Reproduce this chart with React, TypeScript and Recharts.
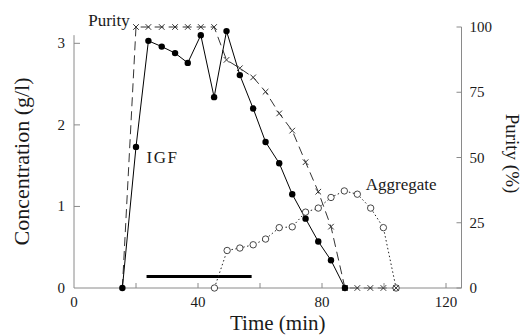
import {
  Line,
  LineChart,
  ReferenceDot,
  ReferenceLine,
  XAxis,
  YAxis,
} from "recharts";

const SERIF = '"Liberation Serif", "Times New Roman", serif';
const AXIS = "#8a8a8a";
const INK = "#1a1a1a";

// sampling times (min) shared by IGF and purity
const times = [15.6, 20, 24, 28.3, 32.6, 36.7, 40.9, 45.2, 49.2, 53.5, 57.8, 61.8, 66.2, 70.4, 74.7, 78.8, 82.9, 87.4];
const igf = [0, 1.73, 3.03, 2.96, 2.88, 2.76, 3.1, 2.34, 3.15, 2.61, 2.2, 1.79, 1.53, 1.15, 0.85, 0.57, 0.34, 0];

const purityTimes = [...times, 91.4, 95.6, 99.8, 103.9];
const purity = [0, 100, 100, 100, 100, 100, 100, 100, 87.4, 84.2, 80.7, 75.2, 66.9, 60.3, 48.2, 36.9, 23.5, 0, 0, 0, 0, 0];

const aggTimes = [45.3, 49.4, 53.5, 57.8, 61.8, 66.2, 70.4, 74.7, 78.8, 82.9, 87.2, 91.4, 95.7, 99.8, 103.9];
const aggregate = [0, 0.46, 0.49, 0.53, 0.6, 0.74, 0.75, 0.93, 0.98, 1.11, 1.19, 1.15, 0.98, 0.74, 0];

// loading period bar
const loadTimes = [23.4, 57.3];
const loadLevel = [0.14, 0.14];

const xTicks = [0, 20, 40, 60, 80, 100, 120];
const xLabelled = [0, 40, 80, 120];
const leftTicks = [0, 1, 2, 3];
const rightTicks = [0, 25, 50, 75, 100];

const igfData = times.map((t, i) => ({ t, v: igf[i] }));
const purityData = purityTimes.map((t, i) => ({ t, v: purity[i] }));
const aggData = aggTimes.map((t, i) => ({ t, v: aggregate[i] }));
const loadData = loadTimes.map((t, i) => ({ t, v: loadLevel[i] }));

function XTick(props: any) {
  const { x, y, payload } = props;
  const v = payload.value;
  return (
    <g>
      {v !== 0 ? <line x1={x} x2={x} y1={y} y2={y - 5} stroke={AXIS} /> : null}
      {xLabelled.includes(v) ? (
        <text x={x} y={y + 19} textAnchor="middle" fontFamily={SERIF} fontSize={15} fill={INK}>
          {v}
        </text>
      ) : null}
    </g>
  );
}

function LeftTick(props: any) {
  const { x, y, payload } = props;
  const v = payload.value;
  return (
    <g>
      {v !== 0 ? <line x1={x} x2={x + 6} y1={y} y2={y} stroke={AXIS} /> : null}
      <text x={x - 9} y={y + 5} textAnchor="end" fontFamily={SERIF} fontSize={15} fill={INK}>
        {v}
      </text>
    </g>
  );
}

function RightTick(props: any) {
  const { x, y, payload } = props;
  return (
    <g>
      <line x1={x - 5} x2={x} y1={y} y2={y} stroke={AXIS} />
      <text x={x + 8} y={y + 5} textAnchor="start" fontFamily={SERIF} fontSize={15} fill={INK}>
        {payload.value}
      </text>
    </g>
  );
}

function LeftTitle(props: any) {
  const vb = props.viewBox;
  const cy = vb.y + vb.height / 2 + 4;
  return (
    <text
      transform={`translate(29 ${cy}) rotate(-90)`}
      textAnchor="middle"
      fontFamily={SERIF}
      fontSize={22}
      fill={INK}
    >
      Concentration (g/l)
    </text>
  );
}

function RightTitle(props: any) {
  const vb = props.viewBox;
  const cy = vb.y + vb.height / 2 - 4;
  return (
    <text
      transform={`translate(506 ${cy}) rotate(90)`}
      textAnchor="middle"
      fontFamily={SERIF}
      fontSize={19}
      fill={INK}
    >
      Purity (%)
    </text>
  );
}

function BottomTitle(props: any) {
  const vb = props.viewBox;
  return (
    <text x={vb.x + vb.width / 2 + 10} y={vb.y + 42} textAnchor="middle" fontFamily={SERIF} fontSize={21} fill={INK}>
      Time (min)
    </text>
  );
}

function Note(props: any) {
  const { viewBox, text, anchor, spacing } = props;
  return (
    <text
      x={viewBox.x}
      y={viewBox.y}
      dy="0.35em"
      textAnchor={anchor}
      fontFamily={SERIF}
      fontSize={17}
      letterSpacing={spacing ?? 0}
      fill={INK}
    >
      {text}
    </text>
  );
}

function FilledDot(props: any) {
  const { cx, cy, index } = props;
  return <circle key={`f${index}`} cx={cx} cy={cy} r={3.2} fill="#000" />;
}

function OpenDot(props: any) {
  const { cx, cy, index } = props;
  return <circle key={`o${index}`} cx={cx} cy={cy} r={3.2} fill="#fff" stroke="#333" strokeWidth={0.9} />;
}

function CrossDot(props: any) {
  const { cx, cy, index } = props;
  if (index === 0) return <g key={`c${index}`} />;
  const s = 2.8;
  return (
    <path
      key={`c${index}`}
      d={`M${cx - s},${cy - s}L${cx + s},${cy + s}M${cx - s},${cy + s}L${cx + s},${cy - s}`}
      stroke="#333"
      strokeWidth={1}
      fill="none"
    />
  );
}

export default function App() {
  return (
    <div style={{ position: "absolute", left: 0, top: 0, background: "#fff" }}>
      <LineChart width={524} height={336} margin={{ top: 27, right: 0, bottom: 0, left: 0 }}>
        <XAxis
          dataKey="t"
          type="number"
          domain={[0, 125]}
          ticks={xTicks}
          interval={0}
          allowDataOverflow
          height={48}
          tickSize={0}
          tickMargin={0}
          tickLine={false}
          axisLine={{ stroke: AXIS }}
          tick={<XTick />}
          label={<BottomTitle />}
        />
        <YAxis
          yAxisId="left"
          orientation="left"
          type="number"
          domain={[0, 3.2]}
          ticks={leftTicks}
          interval={0}
          width={74}
          tickSize={0}
          tickMargin={0}
          tickLine={false}
          axisLine={false}
          tick={<LeftTick />}
          label={<LeftTitle />}
        />
        <YAxis
          yAxisId="right"
          orientation="right"
          type="number"
          domain={[0, 100]}
          ticks={rightTicks}
          interval={0}
          width={62.5}
          tickSize={0}
          tickMargin={0}
          tickLine={false}
          axisLine={{ stroke: AXIS }}
          tick={<RightTick />}
          label={<RightTitle />}
        />
        <ReferenceLine
          yAxisId="left"
          segment={[
            { x: 0, y: 0 },
            { x: 0, y: 3.1 },
          ]}
          stroke={AXIS}
        />
        <Line
          yAxisId="left"
          data={loadData}
          dataKey="v"
          stroke="#000"
          strokeWidth={3}
          dot={false}
          isAnimationActive={false}
        />
        <Line
          yAxisId="left"
          data={aggData}
          dataKey="v"
          stroke="#222"
          strokeWidth={1}
          strokeDasharray="1.5 2.5"
          dot={<OpenDot />}
          isAnimationActive={false}
        />
        <Line
          yAxisId="right"
          data={purityData}
          dataKey="v"
          stroke="#333"
          strokeWidth={1}
          strokeDasharray="9 5"
          dot={<CrossDot />}
          isAnimationActive={false}
        />
        <Line
          yAxisId="left"
          data={igfData}
          dataKey="v"
          stroke="#000"
          strokeWidth={1}
          dot={<FilledDot />}
          isAnimationActive={false}
        />
        <ReferenceDot
          yAxisId="right"
          x={18}
          y={102.7}
          r={0}
          ifOverflow="visible"
          label={<Note text="Purity" anchor="end" />}
        />
        <ReferenceDot
          yAxisId="left"
          x={23.4}
          y={1.61}
          r={0}
          ifOverflow="visible"
          label={<Note text="IGF" anchor="start" spacing={1.5} />}
        />
        <ReferenceDot
          yAxisId="left"
          x={94.1}
          y={1.275}
          r={0}
          ifOverflow="visible"
          label={<Note text="Aggregate" anchor="start" />}
        />
      </LineChart>
    </div>
  );
}
